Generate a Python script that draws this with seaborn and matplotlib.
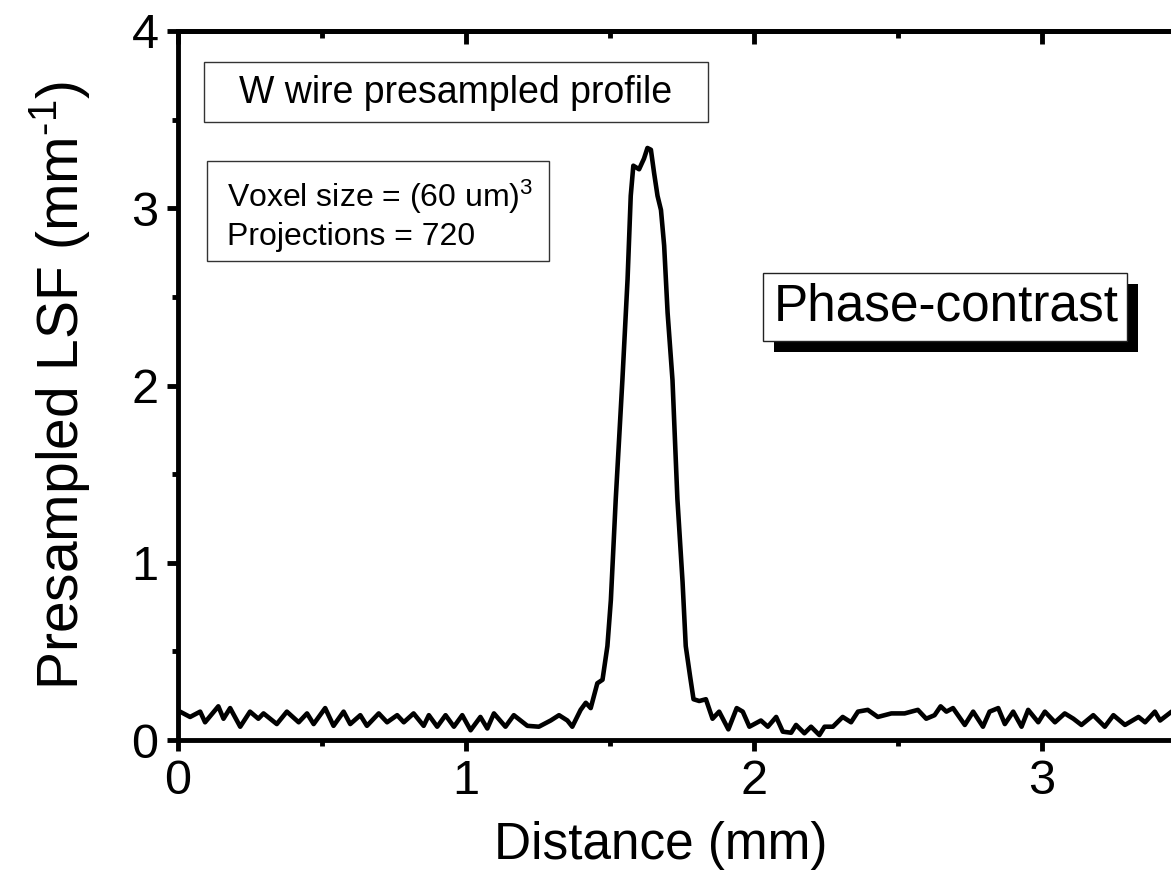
import matplotlib
matplotlib.use("Agg")
import matplotlib.pyplot as plt
from matplotlib.patches import Rectangle
from matplotlib.ticker import MultipleLocator
import pandas as pd
import seaborn as sns

# presampled LSF of the W wire
distance_mm = [
    0.007, 0.042, 0.077, 0.094, 0.140, 0.158, 0.181, 0.216, 0.250, 0.279,
    0.297, 0.343, 0.378, 0.419, 0.448, 0.471, 0.511, 0.540, 0.575, 0.598,
    0.633, 0.656, 0.697, 0.726, 0.761, 0.784, 0.818, 0.853, 0.871, 0.900,
    0.929, 0.958, 0.987, 1.016, 1.050, 1.074, 1.097, 1.137, 1.166, 1.213,
    1.253, 1.294, 1.323, 1.352, 1.369, 1.398, 1.416, 1.433, 1.456, 1.474,
    1.491, 1.503, 1.520, 1.543, 1.561, 1.572, 1.581, 1.601, 1.618, 1.630,
    1.642, 1.653, 1.665, 1.677, 1.688, 1.700, 1.717, 1.734, 1.752, 1.763,
    1.778, 1.790, 1.810, 1.833, 1.856, 1.879, 1.911, 1.940, 1.961, 1.984,
    2.024, 2.048, 2.077, 2.100, 2.129, 2.146, 2.175, 2.198, 2.227, 2.245,
    2.274, 2.308, 2.337, 2.361, 2.395, 2.430, 2.477, 2.523, 2.569, 2.598,
    2.627, 2.648, 2.668, 2.691, 2.732, 2.761, 2.795, 2.818, 2.848, 2.871,
    2.900, 2.929, 2.952, 2.987, 3.010, 3.045, 3.079, 3.109, 3.137, 3.178,
    3.218, 3.248, 3.288, 3.335, 3.358, 3.392, 3.410, 3.450, 3.480, 3.500,
]
lsf = [
    0.16, 0.13, 0.16, 0.10, 0.19, 0.12, 0.18, 0.075, 0.16, 0.12,
    0.15, 0.09, 0.16, 0.10, 0.15, 0.09, 0.18, 0.08, 0.16, 0.09,
    0.14, 0.08, 0.15, 0.10, 0.14, 0.10, 0.15, 0.08, 0.14, 0.075,
    0.14, 0.075, 0.14, 0.055, 0.13, 0.065, 0.15, 0.075, 0.14, 0.08,
    0.075, 0.11, 0.14, 0.11, 0.075, 0.17, 0.21, 0.18, 0.32, 0.34,
    0.53, 0.79, 1.36, 2.03, 2.60, 3.07, 3.24, 3.22, 3.28, 3.34,
    3.33, 3.20, 3.07, 2.99, 2.79, 2.41, 2.03, 1.36, 0.89, 0.53,
    0.36, 0.23, 0.22, 0.23, 0.12, 0.16, 0.06, 0.18, 0.16, 0.075,
    0.11, 0.075, 0.13, 0.047, 0.041, 0.085, 0.038, 0.075, 0.028, 0.075,
    0.075, 0.13, 0.10, 0.16, 0.17, 0.13, 0.15, 0.15, 0.17, 0.12,
    0.14, 0.19, 0.16, 0.18, 0.085, 0.16, 0.075, 0.16, 0.18, 0.09,
    0.16, 0.075, 0.17, 0.10, 0.16, 0.10, 0.15, 0.12, 0.085, 0.14,
    0.075, 0.14, 0.085, 0.13, 0.10, 0.16, 0.11, 0.16, 0.12, 0.14,
]
x_ticks = [0, 1, 2, 3]
y_ticks = [0, 1, 2, 3, 4]

df = pd.DataFrame({"distance": distance_mm, "lsf": lsf})

sns.set_style("ticks")
plt.rcParams["font.family"] = ["Liberation Sans", "DejaVu Sans"]
plt.rcParams["mathtext.fontset"] = "custom"
plt.rcParams["mathtext.rm"] = "Liberation Sans"
plt.rcParams["mathtext.it"] = "Liberation Sans:italic"
plt.rcParams["mathtext.bf"] = "Liberation Sans:bold"
for key in ["text.color", "axes.labelcolor", "xtick.color", "ytick.color", "axes.edgecolor"]:
    plt.rcParams[key] = "black"

W, H = 1171, 877


def fx(px):
    return px / W


def fy(py):
    return 1 - py / H


fig = plt.figure(figsize=(W / 100, H / 100), dpi=100)
# the original figure is cropped on the right, so the axes run past the edge
ax = fig.add_axes([fx(178), fy(740), (1186 - 178) / W, (740 - 31) / H])

sns.lineplot(data=df, x="distance", y="lsf", color="black", linewidth=3.3, ax=ax)

ax.set_xlim(0, 3.5)
ax.set_ylim(0, 4)
ax.set_xticks(x_ticks)
ax.set_yticks(y_ticks)
ax.xaxis.set_minor_locator(MultipleLocator(0.5))
ax.yaxis.set_minor_locator(MultipleLocator(0.5))
for spine in ax.spines.values():
    spine.set_linewidth(3.5)
ax.tick_params(which="major", direction="out", length=8, width=3.5, labelsize=35, pad=6)
ax.tick_params(which="minor", direction="out", length=4, width=3.5)

top = ax.secondary_xaxis("top")
top.set_xticks(x_ticks)
top.xaxis.set_minor_locator(MultipleLocator(0.5))
top.tick_params(which="major", direction="in", length=9, width=3.5, labeltop=False)
top.tick_params(which="minor", direction="in", length=5, width=3.5)
top.spines["top"].set_linewidth(3.5)

ax.set_xlabel("Distance (mm)", fontsize=37)
ax.set_ylabel("Presampled LSF (mm$^{\\text{-1}}$)", fontsize=41)
ax.xaxis.label.set_va("center")
ax.xaxis.set_label_coords((661 - 178) / 1008, (740 - 845) / 709)
ax.yaxis.label.set_va("center")
ax.yaxis.set_label_coords((60 - 178) / 1008, 0.5)

# annotation boxes
fig.patches.append(Rectangle((fx(204), fy(122)), (708 - 204) / W, 60 / H,
                             transform=fig.transFigure, facecolor="white",
                             edgecolor="#333333", linewidth=1.0, zorder=5))
fig.text(fx(456), fy(93), "W wire presampled profile", ha="center", va="center",
         fontsize=27, zorder=6)

fig.patches.append(Rectangle((fx(207), fy(261)), (549 - 207) / W, 100 / H,
                             transform=fig.transFigure, facecolor="white",
                             edgecolor="#333333", linewidth=1.0, zorder=5))
fig.text(fx(227), fy(207), "Voxel size = (60 um)$^3$", ha="left", va="baseline",
         fontsize=23, zorder=6)
fig.text(fx(227), fy(245), "Projections = 720", ha="left", va="baseline",
         fontsize=23, zorder=6)

fig.patches.append(Rectangle((fx(774), fy(352)), (1127 - 763) / W, 68 / H,
                             transform=fig.transFigure, facecolor="black",
                             edgecolor="black", linewidth=0, zorder=5))
fig.patches.append(Rectangle((fx(763), fy(341)), (1127 - 763) / W, 68 / H,
                             transform=fig.transFigure, facecolor="white",
                             edgecolor="#222222", linewidth=1.0, zorder=6))
fig.text(fx(946), fy(307), "Phase-contrast", ha="center", va="center",
         fontsize=37, zorder=7)

fig.savefig("out.png", dpi=100)
